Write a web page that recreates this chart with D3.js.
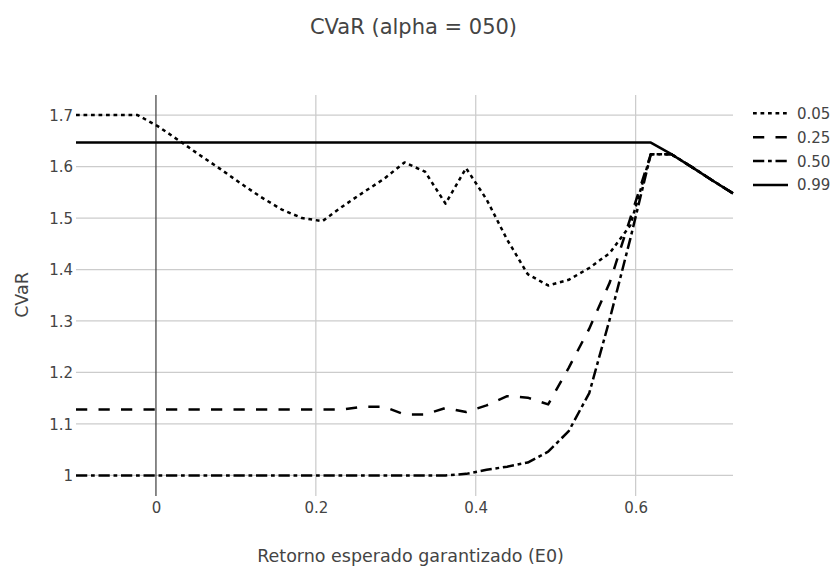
<!DOCTYPE html>
<html>
<head>
<meta charset="utf-8">
<script src="https://cdn.jsdelivr.net/npm/d3@7"></script>
<style>
    body { margin: 0; background: #fff; }
    text { font-family: "DejaVu Sans", Verdana, sans-serif; fill: #444; }
</style>
</head>
<body>
<div id="cvar-chart"></div>
<script>
// retorno esperado garantizado (E0)
var e0Values = [-0.1000, -0.0743, -0.0486, -0.0230, 0.0027, 0.0284, 0.0541, 0.0798, 0.1054, 0.1311,
    0.1568, 0.1825, 0.2082, 0.2338, 0.2595, 0.2852, 0.3109, 0.3366, 0.3622, 0.3879,
    0.4136, 0.4393, 0.4650, 0.4906, 0.5163, 0.5420, 0.5677, 0.5934, 0.6190, 0.6447,
    0.6704, 0.6961, 0.7218];

var seriesNames = ["0.05", "0.25", "0.50", "0.99"];

var cvar005 = [1.700, 1.700, 1.700, 1.700, 1.678, 1.651, 1.623, 1.596, 1.568, 1.541,
    1.517, 1.500, 1.494, 1.523, 1.550, 1.576, 1.608, 1.590, 1.528, 1.597,
    1.536, 1.458, 1.391, 1.369, 1.380, 1.403, 1.432, 1.486, 1.624, 1.624,
    1.599, 1.573, 1.548];
var cvar025 = [1.128, 1.128, 1.128, 1.128, 1.128, 1.128, 1.128, 1.128, 1.128, 1.128,
    1.128, 1.128, 1.128, 1.128, 1.1335, 1.1335, 1.1185, 1.1185, 1.131, 1.123,
    1.136, 1.154, 1.151, 1.138, 1.209, 1.285, 1.375, 1.500, 1.624, 1.624,
    1.599, 1.573, 1.548];
var cvar050 = [1.000, 1.000, 1.000, 1.000, 1.000, 1.000, 1.000, 1.000, 1.000, 1.000,
    1.000, 1.000, 1.000, 1.000, 1.000, 1.000, 1.000, 1.000, 1.000, 1.003,
    1.011, 1.017, 1.025, 1.046, 1.086, 1.160, 1.304, 1.460, 1.624, 1.624,
    1.599, 1.573, 1.548];
var cvar099 = [1.6466, 1.6466, 1.6466, 1.6466, 1.6466, 1.6466, 1.6466, 1.6466, 1.6466, 1.6466,
    1.6466, 1.6466, 1.6466, 1.6466, 1.6466, 1.6466, 1.6466, 1.6466, 1.6466, 1.6466,
    1.6466, 1.6466, 1.6466, 1.6466, 1.6466, 1.6466, 1.6466, 1.6466, 1.6466, 1.624,
    1.599, 1.573, 1.548];

var xTicks = [0, 0.2, 0.4, 0.6];
var yTicks = [1, 1.1, 1.2, 1.3, 1.4, 1.5, 1.6, 1.7];

var cvar_chart = {
    initialize: function(){
        var totalWidth = 835, totalHeight = 567;
        var margin = {top: 95, right: 102, bottom: 71, left: 76},
            width = totalWidth - margin.left - margin.right,
            height = totalHeight - margin.top - margin.bottom;

        var x = d3.scaleLinear().domain([-0.1, 0.7218]).range([0, width]);
        var y = d3.scaleLinear().domain([0.96, 1.739]).range([height, 0]);

        var dashes = ["3.75,3.75", "11.25,11.25", "11.25,3.75,3.75,3.75", null];
        var allSeries = [cvar005, cvar025, cvar050, cvar099];

        var svg = d3.select("#cvar-chart")
            .append("svg")
            .attr("width", totalWidth)
            .attr("height", totalHeight);

        var g = svg.append("g")
            .attr("transform", "translate(" + margin.left + "," + margin.top + ")");

        // grid
        g.selectAll(".ygrid")
            .data(yTicks)
            .enter().append("line")
            .attr("class", "ygrid")
            .attr("x1", 0).attr("x2", width)
            .attr("y1", function(d){ return y(d); })
            .attr("y2", function(d){ return y(d); })
            .attr("stroke", "#cccccc")
            .attr("stroke-width", 1.25);

        g.selectAll(".xgrid")
            .data(xTicks.filter(function(d){ return d !== 0; }))
            .enter().append("line")
            .attr("class", "xgrid")
            .attr("y1", 0).attr("y2", height)
            .attr("x1", function(d){ return x(d); })
            .attr("x2", function(d){ return x(d); })
            .attr("stroke", "#cccccc")
            .attr("stroke-width", 1.25);

        // zero line
        g.append("line")
            .attr("x1", x(0)).attr("x2", x(0))
            .attr("y1", 0).attr("y2", height)
            .attr("stroke", "#444")
            .attr("stroke-width", 1.25);

        // axes (labels only, no domain/ticks)
        var xAxis = d3.axisBottom(x).tickValues(xTicks).tickSize(0).tickPadding(0)
            .tickFormat(function(d){ return d === 0 ? "0" : d3.format(".1f")(d); });
        var yAxis = d3.axisLeft(y).tickValues(yTicks).tickSize(0).tickPadding(0)
            .tickFormat(function(d){ return d === 1 ? "1" : d3.format(".1f")(d); });

        var gx = g.append("g")
            .attr("transform", "translate(0," + height + ")")
            .call(xAxis);
        gx.select(".domain").remove();
        gx.selectAll("text")
            .attr("y", 17)
            .attr("dy", null)
            .style("font-size", "15px")
            .style("font-family", "DejaVu Sans, Verdana, sans-serif")
            .attr("fill", "#444");

        var gy = g.append("g")
            .call(yAxis);
        gy.select(".domain").remove();
        gy.selectAll("text")
            .attr("x", -3)
            .attr("dy", "0.36em")
            .style("font-size", "15px")
            .style("font-family", "DejaVu Sans, Verdana, sans-serif")
            .attr("fill", "#444");

        // lines
        var line = d3.line()
            .x(function(d, i){ return x(e0Values[i]); })
            .y(function(d){ return y(d); });

        g.selectAll(".cvar-line")
            .data(allSeries)
            .enter().append("path")
            .attr("class", "cvar-line")
            .attr("d", function(d){ return line(d); })
            .attr("fill", "none")
            .attr("stroke", "#000")
            .attr("stroke-width", 2.5)
            .attr("stroke-linejoin", "round")
            .attr("stroke-dasharray", function(d, i){ return dashes[i]; });

        // titles
        svg.append("text")
            .attr("x", 413.5)
            .attr("y", 33.5)
            .style("text-anchor", "middle")
            .style("font-size", "21px")
            .text("CVaR (alpha = 050)");

        svg.append("text")
            .attr("x", 410.5)
            .attr("y", 561.5)
            .style("text-anchor", "middle")
            .style("font-size", "17.5px")
            .text("Retorno esperado garantizado (E0)");

        svg.append("text")
            .attr("transform", "translate(28," + 295 + ") rotate(-90)")
            .style("text-anchor", "middle")
            .style("font-size", "17.5px")
            .text("CVaR");

        // legend
        var legend = svg.selectAll(".legend-item")
            .data(seriesNames)
            .enter().append("g")
            .attr("class", "legend-item")
            .attr("transform", function(d, i){ return "translate(753," + (113.3 + i * 23.9) + ")"; });

        legend.append("line")
            .attr("x1", 0).attr("x2", 35)
            .attr("y1", 0).attr("y2", 0)
            .attr("stroke", "#000")
            .attr("stroke-width", 2.5)
            .attr("stroke-dasharray", function(d, i){ return dashes[i]; });

        legend.append("text")
            .attr("x", 44)
            .attr("dy", "0.36em")
            .style("font-size", "15px")
            .text(function(d){ return d; });
    }
};

cvar_chart.initialize();
</script>
</body>
</html>
